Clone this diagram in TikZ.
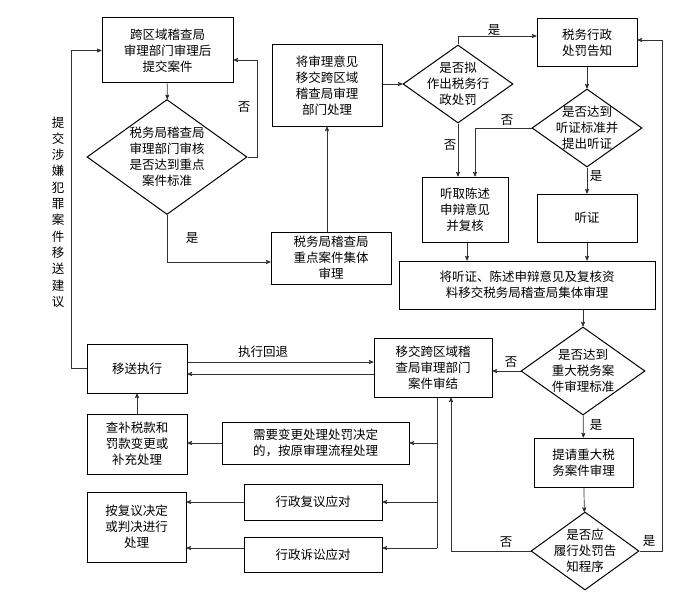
\documentclass[tikz,border=0pt]{standalone}
\usepackage{fontspec}
\setmainfont{Noto Sans CJK SC}
\usepackage{tikz}
\usetikzlibrary{arrows,shapes,positioning,calc}

\begin{document}
\begin{tikzpicture}[x=1pt,y=-1pt]

           \tikzstyle{every node}=[font=\fontsize{12.5}{16}\selectfont, inner sep=0pt]
           \tikzstyle{box}=[draw, line width=1pt, align=center]
           \tikzstyle{dec}=[draw, diamond, line width=1pt, align=center, inner sep=-6pt]
           \tikzstyle{link}=[->, >=stealth', line width=0.7pt, draw=black!80]

   \useasboundingbox (0,0) rectangle (700,599);

   % left column
   \node[box, minimum width=131, minimum height=65] (A1) at (167.5,50.5) {跨区域稽查局\\审理部门审理后\\提交案件};
   \node[dec, minimum width=160, minimum height=115, aspect=1.39] (Q1) at (167,157) {税务局稽查局\\审理部门审核\\是否达到重点\\案件标准};
   \node[box, minimum width=120, minimum height=52] (A2) at (331,258) {税务局稽查局\\重点案件集体\\审理};
   \node[box, minimum width=110, minimum height=81] (A3) at (327,85.5) {将审理意见\\移交跨区域\\稽查局审理\\部门处理};
   \node[dec, minimum width=110, minimum height=78, aspect=1.41] (Q2) at (458,84) {是否拟\\作出税务行\\政处罚};

   % right column
   \node[box, minimum width=100, minimum height=48] (B1) at (587,43) {税务行政\\处罚告知};
   \node[dec, minimum width=110, minimum height=78, aspect=1.41] (Q3) at (587,128) {是否达到\\听证标准并\\提出听证};
   \node[box, minimum width=86, minimum height=65] (B2) at (465,209.5) {听取陈述\\申辩意见\\并复核};
   \node[box, minimum width=100, minimum height=48] (B3) at (587,218) {听证};
   \node[box, minimum width=256, minimum height=48] (B4) at (527,285) {将听证、陈述申辩意见及复核资\\料移交税务局稽查局集体审理};
   \node[dec, minimum width=124, minimum height=88, aspect=1.41] (Q4) at (583,371) {是否达到\\重大税务案\\件审理标准};
   \node[box, minimum width=118, minimum height=59] (B5) at (433,367.5) {移交跨区域稽\\查局审理部门\\案件审结};
   \node[box, minimum width=99, minimum height=49] (B6) at (583.5,462.5) {提请重大税\\务案件审理};
   \node[dec, minimum width=108, minimum height=78, aspect=1.38] (Q5) at (585,551) {是否应\\履行处罚告\\知程序};

   % bottom rows
   \node[box, minimum width=100, minimum height=49] (C1) at (137,368.5) {移送执行};
   \node[box, minimum width=100, minimum height=60] (C2) at (137,444) {查补税款和\\罚款变更或\\补充处理};
   \node[box, minimum width=187, minimum height=42] (C3) at (315.5,443) {需要变更处理处罚决定\\的，按原审理流程处理};
   \node[box, minimum width=138, minimum height=36] (C4) at (313,502) {行政复议应对};
   \node[box, minimum width=138, minimum height=35] (C5) at (313,554.5) {行政诉讼应对};
   \node[box, minimum width=99, minimum height=70] (C6) at (136.5,527) {按复议决定\\或判决进行\\处理};

   % connectors
   \path[link] (A1) edge (Q1);
   \draw[link] (Q1.east) -- ++(10,0) |- ([yshift=-9.5pt]A1.east);
   \draw[link] (Q1.south) |- ([yshift=-4pt]A2.west);
   \draw[link] (A3.south |- A2.north) -- (A3.south);
   \draw[link] (Q2.west -| A3.east) -- (Q2.west);
   \draw[link] (Q2.north) |- ([yshift=7pt]B1.west);
   \path[link] (B1) edge (Q3);
   \draw[link] (Q3.west) -| ([xshift=10pt]B2.north);
   \draw[link] (Q2.south) -- (Q2.south |- B2.north);
   \path[link] (Q3) edge (B3);
   \draw[link] ([xshift=2pt]B2.south) -- ([xshift=2pt]B2.south |- B4.north);
   \draw[link] (B3.south) -- (B3.south |- B4.north);
   \draw[link] (Q4.north |- B4.south) -- (Q4.north);
   \draw[link] (Q4.west) -- (Q4.west -| B5.east);
   \path[link] (Q4) edge (B6);
   \path[link] (B6) edge (Q5);
   \draw[link] (Q5.west) -| ([xshift=18pt]B5.south);
   \draw[link] (Q5.east) -- ++(23,0) |- ([yshift=3pt]B1.east);
   \draw[link] ([yshift=6.5pt]C1.east) -- ([yshift=6.5pt]C1.east -| B5.west);
   \draw[link] ([yshift=-6.5pt]B5.west) -- ([yshift=-6.5pt]B5.west -| C1.east);
   \draw[link] (C1.west) -- ++(-15,0) |- (A1.west);
   \path[link] (C2) edge (C1);
   \coordinate (br) at ([xshift=4pt]B5.south);
   \draw[line width=0.7pt, draw=black!80] (br) -- (br |- 0,548);
   \draw[link] (br |- C3.east) -- (C3.east);
   \draw[link] (br |- C4.east) -- (C4.east);
   \draw[link] (br |- 0,548) -- (C5.east |- 0,548);
   \draw[link] (C3.west) -- (C3.west -| C2.east);
   \draw[link] (C4.west) -- (C4.west -| C6.east);
   \draw[link] (C5.west |- 0,548) -- (C6.east |- 0,548);

   % labels
   \node (n1) at (244,107) {否};
   \node (y1) at (192,238) {是};
   \node (y2) at (494,30) {是};
   \node (n2) at (507,120) {否};
   \node (n3) at (450,145) {否};
   \node (y3) at (596,176) {是};
   \node (n4) at (511,362) {否};
   \node (y4) at (596,425) {是};
   \node (n5) at (506,542) {否};
   \node (y5) at (649,541) {是};
   \node (back) at (263,352) {执行回退};
   \node[align=center, font=\fontsize{12.5}{16.3}\selectfont] (crime) at (58,212) {提\\交\\涉\\嫌\\犯\\罪\\案\\件\\移\\送\\建\\议};
 \end{tikzpicture}
\end{document}
